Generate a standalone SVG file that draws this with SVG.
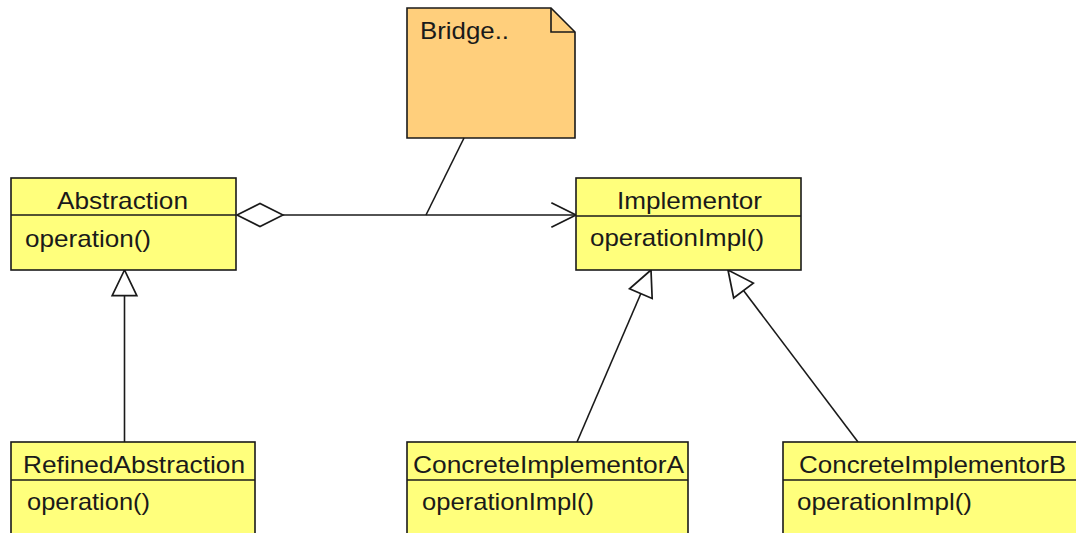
<svg xmlns="http://www.w3.org/2000/svg" width="1076" height="533" viewBox="0 0 1076 533">
<style>
.box{fill:#FFFF7C;stroke:#1a1a1a;stroke-width:1.6}
.div{stroke:#1a1a1a;stroke-width:1.6}
.note{fill:#FFCF7C;stroke:#1a1a1a;stroke-width:1.6}
.t{font-family:"Liberation Sans",Arial,sans-serif;font-size:24px;fill:#1a1a1a}
.ln{stroke:#1a1a1a;stroke-width:1.6;fill:none}
</style>
<defs>
<marker id="tri" markerUnits="userSpaceOnUse" markerWidth="30" markerHeight="30" viewBox="-26 -13 28 26" refX="0" refY="0" orient="auto" overflow="visible">
<path d="M0,0 L-24,-11.5 L-24,11.5 Z" fill="#fff" stroke="#1a1a1a" stroke-width="1.6"/>
</marker>
<marker id="open" markerUnits="userSpaceOnUse" markerWidth="30" markerHeight="30" viewBox="-26 -13 28 26" refX="0" refY="0" orient="auto" overflow="visible">
<path d="M-23,-11.5 L0,0 L-23,11.5" fill="none" stroke="#1a1a1a" stroke-width="1.6"/>
</marker>
<marker id="dia" markerUnits="userSpaceOnUse" markerWidth="50" markerHeight="30" viewBox="-48 -13 50 26" refX="0" refY="0" orient="auto" overflow="visible">
<path d="M0,0 L-23,-11.5 L-46,0 L-23,11.5 Z" fill="#fff" stroke="#1a1a1a" stroke-width="1.6"/>
</marker>
</defs>
<rect width="1076" height="533" fill="#fff"/>
<g id="note">
<path class="note" d="M407,8 L551,8 L575,32 L575,138 L407,138 Z"/>
<path class="ln" d="M551,8 L551,32 L575,32"/>
<text class="t" x="420" y="39" textLength="89" lengthAdjust="spacingAndGlyphs">Bridge..</text>
</g>
<g id="connectors">
<line class="ln" x1="283" y1="215" x2="576" y2="215" marker-end="url(#open)"/>
<line class="ln" x1="283" y1="215" x2="237" y2="215" marker-end="url(#dia)"/>
<line class="ln" x1="464" y1="138" x2="426" y2="215"/>
<line class="ln" x1="124.5" y1="442" x2="124.5" y2="270" marker-end="url(#tri)"/>
<line class="ln" x1="577" y1="442" x2="651" y2="270" marker-end="url(#tri)"/>
<line class="ln" x1="858" y1="442" x2="728" y2="270" marker-end="url(#tri)"/>
</g>
<g id="abstraction">
<rect class="box" x="11" y="178" width="225" height="92"/>
<line class="div" x1="11" y1="215" x2="236" y2="215"/>
<text class="t" x="57" y="209" textLength="131" lengthAdjust="spacingAndGlyphs">Abstraction</text>
<text class="t" x="25" y="247" textLength="126" lengthAdjust="spacingAndGlyphs">operation()</text>
</g>
<g id="implementor">
<rect class="box" x="576" y="178" width="225" height="92"/>
<line class="div" x1="576" y1="216" x2="801" y2="216"/>
<text class="t" x="617" y="209" textLength="145" lengthAdjust="spacingAndGlyphs">Implementor</text>
<text class="t" x="590" y="246" textLength="174" lengthAdjust="spacingAndGlyphs">operationImpl()</text>
</g>
<g id="refinedAbstraction">
<rect class="box" x="11" y="442" width="244" height="100"/>
<line class="div" x1="11" y1="480" x2="255" y2="480"/>
<text class="t" x="23" y="473" textLength="222" lengthAdjust="spacingAndGlyphs">RefinedAbstraction</text>
<text class="t" x="27" y="510" textLength="123" lengthAdjust="spacingAndGlyphs">operation()</text>
</g>
<g id="concreteImplementorA">
<rect class="box" x="407" y="442" width="281" height="100"/>
<line class="div" x1="407" y1="480" x2="688" y2="480"/>
<text class="t" x="413" y="473" textLength="271" lengthAdjust="spacingAndGlyphs">ConcreteImplementorA</text>
<text class="t" x="422" y="510" textLength="172" lengthAdjust="spacingAndGlyphs">operationImpl()</text>
</g>
<g id="concreteImplementorB">
<rect class="box" x="783" y="442" width="300" height="100"/>
<line class="div" x1="783" y1="480" x2="1083" y2="480"/>
<text class="t" x="799" y="473" textLength="267" lengthAdjust="spacingAndGlyphs">ConcreteImplementorB</text>
<text class="t" x="797" y="510" textLength="175" lengthAdjust="spacingAndGlyphs">operationImpl()</text>
</g>
</svg>
